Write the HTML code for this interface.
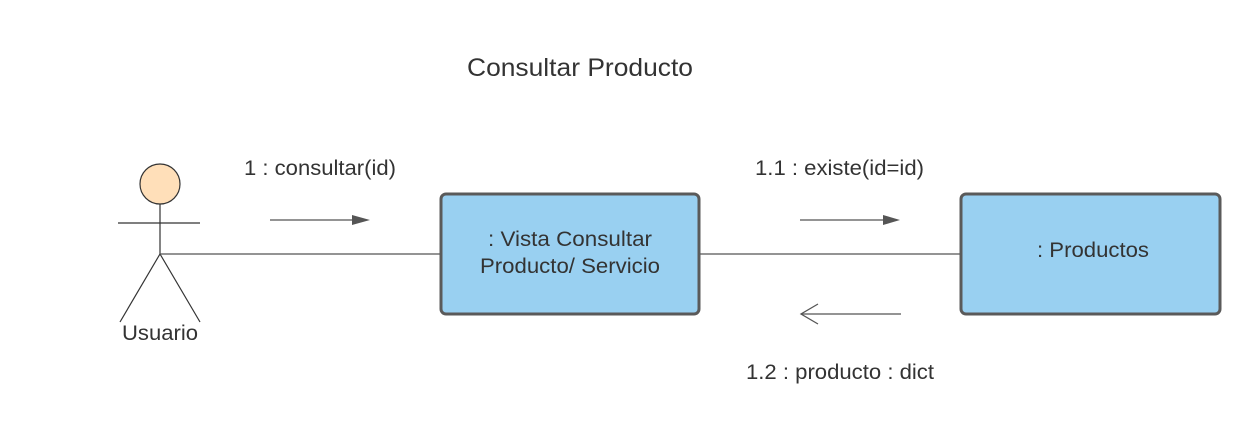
<!DOCTYPE html>
<html><head><meta charset="utf-8"><style>
html,body{margin:0;padding:0;background:#fff;}
svg{display:block;}
text{font-family:"Liberation Sans",sans-serif;fill:#333;}
</style></head><body>
<svg width="1260" height="444" viewBox="0 0 1260 444" xmlns="http://www.w3.org/2000/svg">
<rect width="1260" height="444" fill="#fff"/>
<text x="467" y="76" font-size="25" textLength="226" lengthAdjust="spacingAndGlyphs">Consultar Producto</text>
<!-- actor -->
<circle cx="160" cy="184" r="20" fill="#ffdfb9" stroke="#333" stroke-width="1.2"/>
<line x1="118" y1="223" x2="200" y2="223" stroke="#333" stroke-width="1.2"/>
<line x1="160" y1="204" x2="160" y2="254" stroke="#333" stroke-width="1.2"/>
<line x1="160" y1="254" x2="120" y2="322" stroke="#333" stroke-width="1.2"/>
<line x1="160" y1="254" x2="200" y2="322" stroke="#333" stroke-width="1.2"/>
<text x="122" y="340" font-size="21" textLength="76" lengthAdjust="spacingAndGlyphs">Usuario</text>
<!-- connectors -->
<line x1="160" y1="254" x2="440" y2="254" stroke="#555" stroke-width="1.3"/>
<line x1="700" y1="254" x2="960" y2="254" stroke="#555" stroke-width="1.3"/>
<!-- boxes -->
<rect x="441" y="194" width="258" height="120" rx="5" fill="#99d0f1" stroke="#5a5a5a" stroke-width="3"/>
<text x="488" y="246" font-size="21" textLength="164" lengthAdjust="spacingAndGlyphs">: Vista Consultar</text>
<text x="480" y="273" font-size="21" textLength="180" lengthAdjust="spacingAndGlyphs">Producto/ Servicio</text>
<rect x="961" y="194" width="259" height="120" rx="5" fill="#99d0f1" stroke="#5a5a5a" stroke-width="3"/>
<text x="1037" y="257" font-size="21" textLength="112" lengthAdjust="spacingAndGlyphs">: Productos</text>
<!-- messages -->
<text x="244" y="175" font-size="21" textLength="152" lengthAdjust="spacingAndGlyphs">1 : consultar(id)</text>
<line x1="270" y1="220" x2="356" y2="220" stroke="#555" stroke-width="1.3"/>
<polygon points="352,215 370,220 352,225" fill="#555"/>
<text x="755" y="175" font-size="21" textLength="169" lengthAdjust="spacingAndGlyphs">1.1 : existe(id=id)</text>
<line x1="800" y1="220" x2="886" y2="220" stroke="#555" stroke-width="1.3"/>
<polygon points="883,215 900,220 883,225" fill="#555"/>
<line x1="801" y1="314" x2="901" y2="314" stroke="#555" stroke-width="1.3"/>
<polyline points="818,304 801,314 818,324" fill="none" stroke="#555" stroke-width="1.3"/>
<text x="746" y="379" font-size="21" textLength="188" lengthAdjust="spacingAndGlyphs">1.2 : producto : dict</text>
</svg>
</body></html>
